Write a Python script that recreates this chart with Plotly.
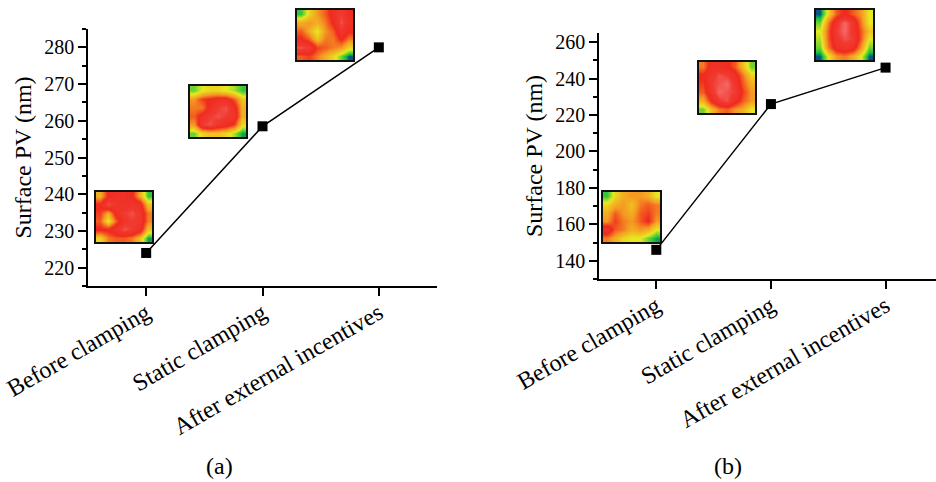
import plotly.graph_objects as go

# ---------------- data ----------------
categories = ["Before clamping", "Static clamping", "After external incentives"]
pv_a = [224, 258.5, 280]
pv_b = [146, 226, 246]
y_ticks_a = [220, 230, 240, 250, 260, 270, 280]
y_ticks_b = [140, 160, 180, 200, 220, 240, 260]
panel_labels = ["(a)", "(b)"]
y_title = "Surface PV (nm)"

# surface-map thumbnails (normalised height, rows top -> bottom)
map_a1 = [[0.45, 0.7, 0.75, 0.75, 0.7, 0.45, 0.15],
          [0.7, 0.9, 0.8, 0.75, 0.8, 0.75, 0.4],
          [0.65, 0.45, 0.75, 0.85, 0.9, 0.8, 0.55],
          [0.6, 0.3, 0.6, 0.8, 0.85, 0.8, 0.55],
          [0.7, 0.7, 0.8, 0.9, 0.85, 0.75, 0.4],
          [0.35, 0.55, 0.6, 0.6, 0.55, 0.4, 0.1]]
map_a2 = [[0.2, 0.3, 0.35, 0.35, 0.3, 0.25, 0.15],
          [0.5, 0.65, 0.7, 0.75, 0.75, 0.6, 0.4],
          [0.55, 0.55, 0.75, 0.85, 0.9, 0.75, 0.45],
          [0.6, 0.75, 0.85, 0.9, 0.85, 0.8, 0.45],
          [0.5, 0.85, 0.9, 0.8, 0.75, 0.65, 0.35],
          [0.2, 0.35, 0.4, 0.4, 0.35, 0.25, 0.1]]
map_a3 = [[0.15, 0.35, 0.5, 0.6, 0.75, 0.85, 0.7],
          [0.45, 0.5, 0.45, 0.55, 0.7, 0.9, 0.75],
          [0.6, 0.45, 0.3, 0.5, 0.6, 0.8, 0.7],
          [0.7, 0.6, 0.4, 0.55, 0.55, 0.7, 0.55],
          [0.9, 0.85, 0.65, 0.6, 0.55, 0.5, 0.35],
          [0.6, 0.65, 0.55, 0.45, 0.35, 0.2, 0.05]]
map_b1 = [[0.15, 0.35, 0.45, 0.5, 0.5, 0.45, 0.3],
          [0.35, 0.45, 0.5, 0.4, 0.55, 0.6, 0.55],
          [0.45, 0.6, 0.5, 0.45, 0.6, 0.65, 0.55],
          [0.5, 0.65, 0.55, 0.5, 0.6, 0.7, 0.5],
          [0.8, 0.6, 0.55, 0.45, 0.5, 0.45, 0.3],
          [0.55, 0.45, 0.35, 0.3, 0.3, 0.2, 0.1]]
map_b2 = [[0.55, 0.75, 0.75, 0.7, 0.6, 0.4, 0.2],
          [0.7, 0.8, 0.9, 0.85, 0.75, 0.55, 0.35],
          [0.65, 0.85, 0.9, 0.95, 0.8, 0.6, 0.45],
          [0.6, 0.8, 0.95, 0.9, 0.85, 0.65, 0.5],
          [0.45, 0.7, 0.85, 0.9, 0.75, 0.6, 0.5],
          [0.2, 0.4, 0.55, 0.6, 0.5, 0.45, 0.3]]
map_b3 = [[0.05, 0.35, 0.6, 0.7, 0.6, 0.5, 0.3],
          [0.2, 0.55, 0.8, 0.95, 0.8, 0.55, 0.3],
          [0.3, 0.6, 0.85, 0.95, 0.8, 0.6, 0.4],
          [0.25, 0.6, 0.8, 0.9, 0.85, 0.6, 0.3],
          [0.2, 0.55, 0.75, 0.8, 0.75, 0.5, 0.2],
          [0.05, 0.3, 0.5, 0.55, 0.45, 0.3, 0.05]]

# ---------------- styling ----------------
W, H = 936, 482
FONT = "Liberation Serif"
jet_like = [[0.0, "#0010b0"], [0.12, "#10c040"], [0.3, "#e8e820"],
            [0.5, "#f59a22"], [0.68, "#f02a1e"], [0.85, "#f03a30"],
            [1.0, "#f88080"]]

def xd(x0, x1):
    return [x0 / W, x1 / W]

def yd(top, bottom):
    return [(H - bottom) / H, (H - top) / H]

fig = go.Figure()

line_style = dict(color="black", width=1.5)
marker_style = dict(symbol="square", size=10, color="black")
fig.add_trace(go.Scatter(x=categories, y=pv_a, mode="lines+markers",
                         line=line_style, marker=marker_style,
                         xaxis="x", yaxis="y", showlegend=False))
fig.add_trace(go.Scatter(x=categories, y=pv_b, mode="lines+markers",
                         line=line_style, marker=marker_style,
                         xaxis="x2", yaxis="y2", showlegend=False))

maps = [map_a1, map_a2, map_a3, map_b1, map_b2, map_b3]
# thumbnail boxes in pixels: (left, right, top, bottom)
boxes = [(96, 152, 192, 242), (190, 246, 86, 137), (297, 353, 10, 60),
         (603, 660, 192, 242), (699, 755, 62, 113), (816, 873, 10, 60)]

layout_axes = {}
for i, (m, b) in enumerate(zip(maps, boxes)):
    n = i + 3
    fig.add_trace(go.Heatmap(z=m, colorscale=jet_like, zmin=0, zmax=1,
                             zsmooth="best", showscale=False,
                             xaxis=f"x{n}", yaxis=f"y{n}", hoverinfo="skip"))
    ax_common = dict(showticklabels=False, ticks="", showgrid=False,
                     zeroline=False, showline=True, mirror=True,
                     linecolor="#111111", linewidth=1.5, automargin=False)
    layout_axes[f"xaxis{n}"] = dict(domain=xd(b[0], b[1]), anchor=f"y{n}",
                                    range=[-0.5, 6.5], **ax_common)
    layout_axes[f"yaxis{n}"] = dict(domain=yd(b[2], b[3]), anchor=f"x{n}",
                                    range=[5.5, -0.5], **ax_common)

axis_common = dict(showline=True, linecolor="black", linewidth=1.5,
                   showgrid=False, zeroline=False, ticks="outside",
                   tickcolor="black", tickwidth=1.5, ticklen=8,
                   automargin=False)

fig.update_layout(
    width=W, height=H,
    margin=dict(l=0, r=0, t=0, b=0),
    paper_bgcolor="white", plot_bgcolor="white",
    showlegend=False,
    font=dict(family=FONT, color="black"),
    xaxis=dict(domain=xd(88, 437), anchor="y", range=[-0.5, 2.5],
               tickangle=-30, tickfont=dict(size=24, family=FONT),
               ticklabelstandoff=-6,
               **axis_common),
    yaxis=dict(domain=yd(29, 286), anchor="x", range=[215, 285],
               tickvals=y_ticks_a, tickfont=dict(size=20, family=FONT),
               title=dict(text=y_title, font=dict(size=24, family=FONT), standoff=6),
               minor=dict(dtick=5, ticks="outside", ticklen=4, tickcolor="black", tickwidth=1.5),
               **axis_common),
    xaxis2=dict(domain=xd(599, 936), anchor="y2", range=[-0.5, 2.44],
                tickangle=-30, tickfont=dict(size=24, family=FONT),
                ticklabelstandoff=-6,
                **axis_common),
    yaxis2=dict(domain=yd(33, 279), anchor="x2", range=[130, 265],
                tickvals=y_ticks_b, tickfont=dict(size=20, family=FONT),
                title=dict(text=y_title, font=dict(size=24, family=FONT), standoff=6),
                minor=dict(dtick=10, tick0=130, ticks="outside", ticklen=4, tickcolor="black", tickwidth=1.5),
                **axis_common),
    **layout_axes,
)

for label, xc in zip(panel_labels, [219, 728]):
    fig.add_annotation(text=label, x=xc / W, y=(H - 466) / H, xref="paper",
                       yref="paper", xanchor="center", yanchor="middle",
                       showarrow=False, font=dict(size=24, family=FONT))

fig.write_html("out.html", config={"displayModeBar": False},
               post_script="document.body.style.margin='0';")
